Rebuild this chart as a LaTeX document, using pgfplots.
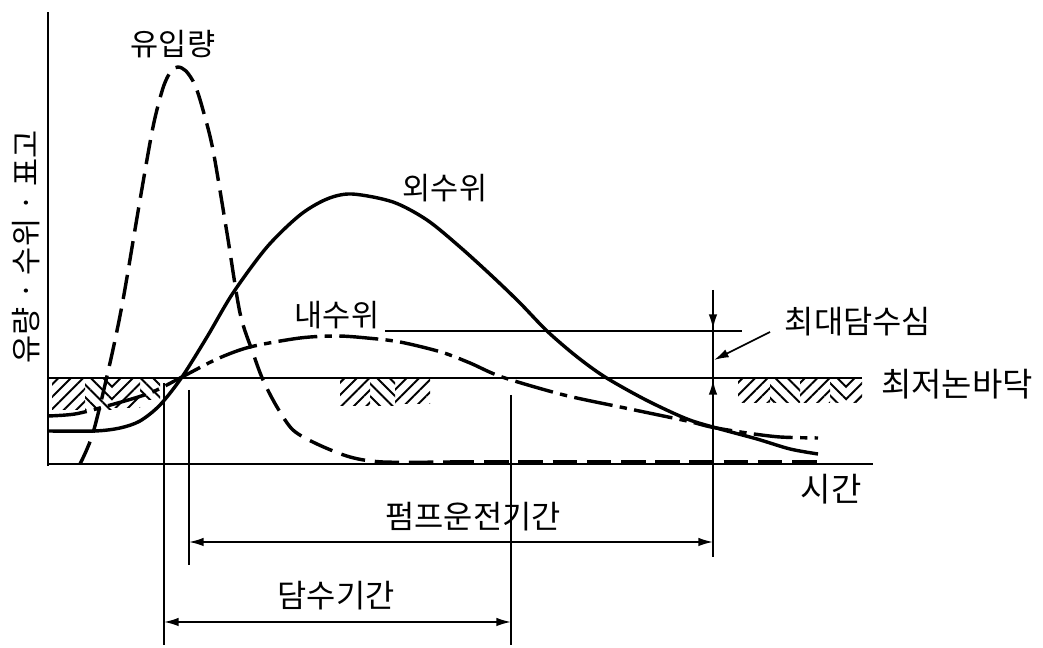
\documentclass[border=0pt]{standalone}
\usepackage{fontspec}
\setmainfont{Noto Sans CJK KR}
\usepackage{pgfplots}
\pgfplotsset{compat=1.18}
\usetikzlibrary{arrows.meta,patterns.meta}

% hatch styles for the paddy-floor ground marks
\tikzset{
  hne/.style={pattern={Lines[angle=45,distance=3.6pt,line width=0.8pt]}},
  hnw/.style={pattern={Lines[angle=-45,distance=3.6pt,line width=0.8pt]}},
  dimarrow/.style={-{Latex[length=6pt,width=3.5pt]}, line width=0.7pt},
  lbl/.style={font=\fontsize{12.5pt}{14pt}\selectfont, inner sep=0pt},
}

\begin{document}
\begin{tikzpicture}
\begin{axis}[
  scale only axis,
  width=15cm, height=9.319cm,
  xmin=0, xmax=1043, ymin=0, ymax=648,
  y dir=reverse,
  hide axis,
  clip=false,
]
\path (axis cs:0,0) rectangle (axis cs:1043,648);

% ground hatching (below the lowest paddy floor)
\fill[hne] (axis cs:52,379) rectangle (axis cs:85,410);
\fill[hnw] (axis cs:85,379) rectangle (axis cs:112,410);
\fill[hne] (axis cs:112,379) rectangle (axis cs:140,408);
\fill[hnw] (axis cs:140,379) rectangle (axis cs:160,400);
\fill[hne] (axis cs:340,379) rectangle (axis cs:370,406);
\fill[hnw] (axis cs:370,379) rectangle (axis cs:395,406);
\fill[hne] (axis cs:395,379) rectangle (axis cs:430,404);
\fill[hne] (axis cs:738,379) rectangle (axis cs:770,403);
\fill[hnw] (axis cs:770,379) rectangle (axis cs:800,403);
\fill[hne] (axis cs:800,379) rectangle (axis cs:830,403);
\fill[hnw] (axis cs:830,379) rectangle (axis cs:846,403);
\fill[hne] (axis cs:846,379) rectangle (axis cs:862,403);

% axes
\addplot[line width=1.2pt] coordinates {(48,12) (48,466)};
\addplot[line width=1.2pt] coordinates {(48,464) (873,464)};

% lowest paddy floor and maximum ponding level
\addplot[line width=0.9pt] coordinates {(48,378) (862,378)};
\addplot[line width=0.7pt] coordinates {(385,331) (742,331)};

% dimension verticals
\addplot[line width=0.7pt] coordinates {(164,383) (164,645)};
\addplot[line width=0.7pt] coordinates {(189,390) (189,565)};
\addplot[line width=0.7pt] coordinates {(511,395) (511,645)};
\addplot[line width=0.7pt] coordinates {(713,290) (713,557)};

% period arrows
\draw[{Latex[length=6pt,width=3.5pt]}-{Latex[length=6pt,width=3.5pt]}, line width=0.7pt]
  (axis cs:189,542) -- (axis cs:713,542);
\draw[{Latex[length=6pt,width=3.5pt]}-{Latex[length=6pt,width=3.5pt]}, line width=0.7pt]
  (axis cs:164,622) -- (axis cs:511,622);

% maximum ponding depth marks
\draw[dimarrow] (axis cs:713,300) -- (axis cs:713,329);
\draw[dimarrow] (axis cs:713,400) -- (axis cs:713,380);
\draw[dimarrow] (axis cs:770,332) -- (axis cs:714,360);

% inflow
\addplot[line width=1.4pt, dash pattern=on 10pt off 4pt, smooth, tension=0.5] coordinates {
  (80,464) (93,433) (110,363) (123,300) (140,200) (153,127) (163,88)
  (171,71) (178,67) (186,71) (195,85) (203,110) (213,150) (227,233)
  (240,313) (253,353) (263,380) (277,407) (293,430) (317,444) (350,457)
  (383,462) (450,462)
};
\addplot[line width=1.4pt, dash pattern=on 10pt off 4pt] coordinates {
  (450,462) (818,462)
};

% outer water level
\addplot[line width=1.4pt, smooth, tension=0.5] coordinates {
  (48,431) (95,431) (120,428) (140,421) (160,405) (182,377) (207,337)
  (233,293) (267,247) (300,215) (327,199) (352,194) (393,202) (427,220)
  (460,247) (493,277) (520,303) (547,331) (576,356) (605,377) (646,400)
  (687,419) (720,429) (757,439) (790,449) (818,454)
};

% inner water level
\addplot[line width=1.4pt, dash pattern=on 16pt off 3pt on 3pt off 3pt, smooth, tension=0.5] coordinates {
  (48,416) (75,414) (107,406) (150,393) (182,377) (217,359) (250,347)
  (300,338) (337,336) (367,338) (400,342) (441,352) (470,363) (502,377)
  (564,395) (625,408) (687,421) (711,427) (747,433) (780,437) (818,438)
};

% labels
\node[lbl] at (axis cs:173,44) {유입량};
\node[lbl] at (axis cs:445,188) {외수위};
\node[lbl] at (axis cs:337,315) {내수위};
\node[lbl, font=\fontsize{13pt}{15pt}\selectfont] at (axis cs:858,322) {최대담수심};
\node[lbl, font=\fontsize{13.5pt}{15pt}\selectfont] at (axis cs:957,384) {최저논바닥};
\node[lbl, font=\fontsize{13.5pt}{15pt}\selectfont] at (axis cs:831,489) {시간};
\node[lbl, font=\fontsize{13pt}{15pt}\selectfont] at (axis cs:473,517) {펌프운전기간};
\node[lbl, font=\fontsize{13pt}{15pt}\selectfont] at (axis cs:336,596) {담수기간};
\node[lbl, rotate=90] at (axis cs:26,247)
  {유량\hspace{0.25em}·\hspace{0.25em}수위\hspace{0.25em}·\hspace{0.25em}표고};
\end{axis}
\end{tikzpicture}
\end{document}
